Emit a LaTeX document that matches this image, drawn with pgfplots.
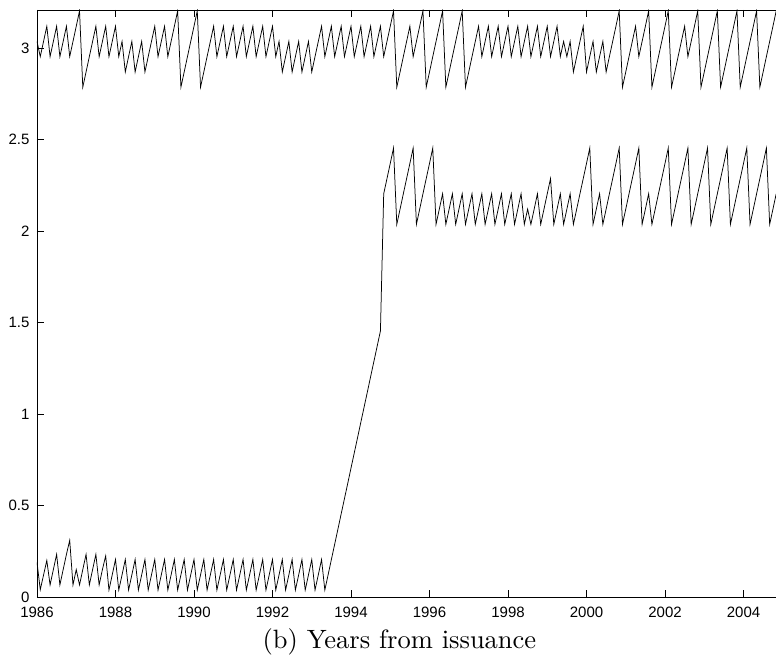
\documentclass[border=0pt]{standalone}
\usepackage{fontspec}
\usepackage{pgfplots}
\pgfplotsset{compat=1.18}
\newfontfamily\tickfont{Liberation Sans}
\newfontfamily\lmten{lmroman10-regular}[Extension=.otf]
\begin{document}
\begin{tikzpicture}
\begin{axis}[
  scale only axis, width=745.75pt, height=587pt,
  xmin=1986, xmax=2005, ymin=0, ymax=3.21,
  xtick={1986,1988,...,2004},
  xticklabels={1986,1988,1990,1992,1994,1996,1998,2000,2002,2004},
  ytick={0,0.5,1,1.5,2,2.5,3},
  yticklabels={0,0.5,1,1.5,2,2.5,3},
  tick label style={font=\tickfont\fontsize{15}{16}\selectfont},
  xticklabel style={yshift=-6pt},
  yticklabel style={xshift=-4pt},
  tick align=inside, major tick length=7pt,
  tick style={black, line width=0.8pt},
  axis line style={line width=0.8pt},
  xlabel={(b) Years from issuance},
  xlabel style={font=\lmten\fontsize{26.5}{30}\selectfont, at={(axis description cs:0.486,0)}, anchor=base, yshift=-51pt},
  clip=true,
]
\addplot[black, line width=0.75pt] table[x expr=1986+\thisrow{m}/12, y=v, row sep=\\] {
m v\\
0 3.038\\ 1 2.955\\ 2 3.038\\ 3 3.121\\ 4 2.955\\ 5 3.038\\ 6 3.121\\ 7 2.955\\ 8 3.038\\ 9 3.121\\
10 2.955\\ 11 3.038\\ 12 3.121\\ 13 3.205\\ 14 2.788\\ 15 2.871\\ 16 2.955\\ 17 3.038\\ 18 3.121\\ 19 2.955\\
20 3.038\\ 21 3.121\\ 22 2.955\\ 23 3.038\\ 24 3.121\\ 25 2.955\\ 26 3.038\\ 27 2.871\\ 28 2.955\\ 29 3.038\\
30 2.871\\ 31 2.955\\ 32 3.038\\ 33 2.871\\ 34 2.955\\ 35 3.038\\ 36 3.121\\ 37 2.955\\ 38 3.038\\ 39 3.121\\
40 2.955\\ 41 3.038\\ 42 3.121\\ 43 3.205\\ 44 2.788\\ 45 2.871\\ 46 2.955\\ 47 3.038\\ 48 3.121\\ 49 3.205\\
50 2.788\\ 51 2.871\\ 52 2.955\\ 53 3.038\\ 54 3.121\\ 55 2.955\\ 56 3.038\\ 57 3.121\\ 58 2.955\\ 59 3.038\\
60 3.121\\ 61 2.955\\ 62 3.038\\ 63 3.121\\ 64 2.955\\ 65 3.038\\ 66 3.121\\ 67 2.955\\ 68 3.038\\ 69 3.121\\
70 2.955\\ 71 3.038\\ 72 3.121\\ 73 2.955\\ 74 3.038\\ 75 2.871\\ 76 2.955\\ 77 3.038\\ 78 2.871\\ 79 2.955\\
80 3.038\\ 81 2.871\\ 82 2.955\\ 83 3.038\\ 84 2.871\\ 85 2.955\\ 86 3.038\\ 87 3.121\\ 88 2.955\\ 89 3.038\\
90 3.121\\ 91 2.955\\ 92 3.038\\ 93 3.121\\ 94 2.955\\ 95 3.038\\ 96 3.121\\ 97 2.955\\ 98 3.038\\ 99 3.121\\
100 2.955\\ 101 3.038\\ 102 3.121\\ 103 2.955\\ 104 3.038\\ 105 3.121\\ 106 2.955\\ 107 3.038\\ 108 3.121\\ 109 3.205\\
110 2.788\\ 111 2.871\\ 112 2.955\\ 113 3.038\\ 114 3.121\\ 115 2.955\\ 116 3.038\\ 117 3.121\\ 118 3.205\\ 119 2.788\\
120 2.871\\ 121 2.955\\ 122 3.038\\ 123 3.121\\ 124 3.205\\ 125 2.788\\ 126 2.871\\ 127 2.955\\ 128 3.038\\ 129 3.121\\
130 3.205\\ 131 2.788\\ 132 2.871\\ 133 2.955\\ 134 3.038\\ 135 3.121\\ 136 2.955\\ 137 3.038\\ 138 3.121\\ 139 2.955\\
140 3.038\\ 141 3.121\\ 142 2.955\\ 143 3.038\\ 144 3.121\\ 145 2.955\\ 146 3.038\\ 147 3.121\\ 148 2.955\\ 149 3.038\\
150 3.121\\ 151 2.955\\ 152 3.038\\ 153 3.121\\ 154 2.955\\ 155 3.038\\ 156 3.121\\ 157 2.955\\ 158 3.038\\ 159 3.121\\
160 2.955\\ 161 3.038\\ 162 2.955\\ 163 3.038\\ 164 2.871\\ 165 2.955\\ 166 3.038\\ 167 3.121\\ 168 2.871\\ 169 2.955\\
170 3.038\\ 171 2.871\\ 172 2.955\\ 173 3.038\\ 174 2.871\\ 175 2.955\\ 176 3.038\\ 177 3.121\\ 178 3.205\\ 179 2.788\\
180 2.871\\ 181 2.955\\ 182 3.038\\ 183 3.121\\ 184 2.955\\ 185 3.038\\ 186 3.121\\ 187 3.205\\ 188 2.788\\ 189 2.871\\
190 2.955\\ 191 3.038\\ 192 3.121\\ 193 3.205\\ 194 2.788\\ 195 2.871\\ 196 2.955\\ 197 3.038\\ 198 3.121\\ 199 2.955\\
200 3.038\\ 201 3.121\\ 202 3.205\\ 203 2.788\\ 204 2.871\\ 205 2.955\\ 206 3.038\\ 207 3.121\\ 208 3.205\\ 209 2.788\\
210 2.871\\ 211 2.955\\ 212 3.038\\ 213 3.121\\ 214 3.205\\ 215 2.788\\ 216 2.871\\ 217 2.955\\ 218 3.038\\ 219 3.121\\
220 3.205\\ 221 2.788\\ 222 2.871\\ 223 2.955\\ 224 3.038\\ 225 3.121\\ 226 3.205\\
};
\addplot[black, line width=0.75pt] table[x expr=1986+\thisrow{m}/12, y=v, row sep=\\] {
m v\\
0 0.190\\ 1 0.040\\ 2 0.120\\ 3 0.200\\ 4 0.066\\ 5 0.150\\ 6 0.233\\ 7 0.066\\ 8 0.150\\ 9 0.233\\
10 0.310\\ 11 0.066\\ 12 0.150\\ 13 0.066\\ 14 0.150\\ 15 0.233\\ 16 0.066\\ 17 0.150\\ 18 0.233\\ 19 0.066\\
20 0.150\\ 21 0.225\\ 22 0.038\\ 23 0.121\\ 24 0.205\\ 25 0.038\\ 26 0.121\\ 27 0.205\\ 28 0.038\\ 29 0.121\\
30 0.205\\ 31 0.038\\ 32 0.121\\ 33 0.205\\ 34 0.038\\ 35 0.121\\ 36 0.205\\ 37 0.038\\ 38 0.121\\ 39 0.205\\
40 0.038\\ 41 0.121\\ 42 0.205\\ 43 0.038\\ 44 0.121\\ 45 0.205\\ 46 0.038\\ 47 0.121\\ 48 0.205\\ 49 0.038\\
50 0.121\\ 51 0.205\\ 52 0.038\\ 53 0.121\\ 54 0.205\\ 55 0.038\\ 56 0.121\\ 57 0.205\\ 58 0.038\\ 59 0.121\\
60 0.205\\ 61 0.038\\ 62 0.121\\ 63 0.205\\ 64 0.038\\ 65 0.121\\ 66 0.205\\ 67 0.038\\ 68 0.121\\ 69 0.205\\
70 0.038\\ 71 0.121\\ 72 0.205\\ 73 0.038\\ 74 0.121\\ 75 0.205\\ 76 0.038\\ 77 0.121\\ 78 0.205\\ 79 0.038\\
80 0.121\\ 81 0.205\\ 82 0.038\\ 83 0.121\\ 84 0.205\\ 85 0.038\\ 86 0.121\\ 87 0.205\\ 88 0.038\\ 89 0.121\\
90 0.205\\ 91 0.288\\ 92 0.371\\ 93 0.455\\ 94 0.538\\ 95 0.621\\ 96 0.705\\ 97 0.788\\ 98 0.871\\ 99 0.955\\
100 1.038\\ 101 1.121\\ 102 1.205\\ 103 1.288\\ 104 1.371\\ 105 1.455\\ 106 2.205\\ 107 2.288\\ 108 2.371\\ 109 2.455\\
110 2.038\\ 111 2.121\\ 112 2.205\\ 113 2.288\\ 114 2.371\\ 115 2.455\\ 116 2.038\\ 117 2.121\\ 118 2.205\\ 119 2.288\\
120 2.371\\ 121 2.455\\ 122 2.038\\ 123 2.121\\ 124 2.205\\ 125 2.038\\ 126 2.121\\ 127 2.205\\ 128 2.038\\ 129 2.121\\
130 2.205\\ 131 2.038\\ 132 2.121\\ 133 2.205\\ 134 2.038\\ 135 2.121\\ 136 2.205\\ 137 2.038\\ 138 2.121\\ 139 2.205\\
140 2.038\\ 141 2.121\\ 142 2.205\\ 143 2.038\\ 144 2.121\\ 145 2.205\\ 146 2.038\\ 147 2.121\\ 148 2.205\\ 149 2.038\\
150 2.121\\ 151 2.038\\ 152 2.121\\ 153 2.205\\ 154 2.038\\ 155 2.121\\ 156 2.205\\ 157 2.288\\ 158 2.038\\ 159 2.121\\
160 2.205\\ 161 2.038\\ 162 2.121\\ 163 2.205\\ 164 2.038\\ 165 2.121\\ 166 2.205\\ 167 2.288\\ 168 2.371\\ 169 2.455\\
170 2.038\\ 171 2.121\\ 172 2.205\\ 173 2.038\\ 174 2.121\\ 175 2.205\\ 176 2.288\\ 177 2.371\\ 178 2.455\\ 179 2.038\\
180 2.121\\ 181 2.205\\ 182 2.288\\ 183 2.371\\ 184 2.455\\ 185 2.038\\ 186 2.121\\ 187 2.205\\ 188 2.038\\ 189 2.121\\
190 2.205\\ 191 2.288\\ 192 2.371\\ 193 2.455\\ 194 2.038\\ 195 2.121\\ 196 2.205\\ 197 2.288\\ 198 2.371\\ 199 2.455\\
200 2.038\\ 201 2.121\\ 202 2.205\\ 203 2.288\\ 204 2.371\\ 205 2.455\\ 206 2.038\\ 207 2.121\\ 208 2.205\\ 209 2.288\\
210 2.371\\ 211 2.455\\ 212 2.038\\ 213 2.121\\ 214 2.205\\ 215 2.288\\ 216 2.371\\ 217 2.455\\ 218 2.038\\ 219 2.121\\
220 2.205\\ 221 2.288\\ 222 2.371\\ 223 2.455\\ 224 2.038\\ 225 2.121\\ 226 2.205\\
};
\end{axis}
\pgfresetboundingbox
\path[use as bounding box] ([xshift=-37pt,yshift=-65pt]current axis.south west) rectangle ([xshift=739pt,yshift=10pt]current axis.north west);
\end{tikzpicture}
\end{document}
